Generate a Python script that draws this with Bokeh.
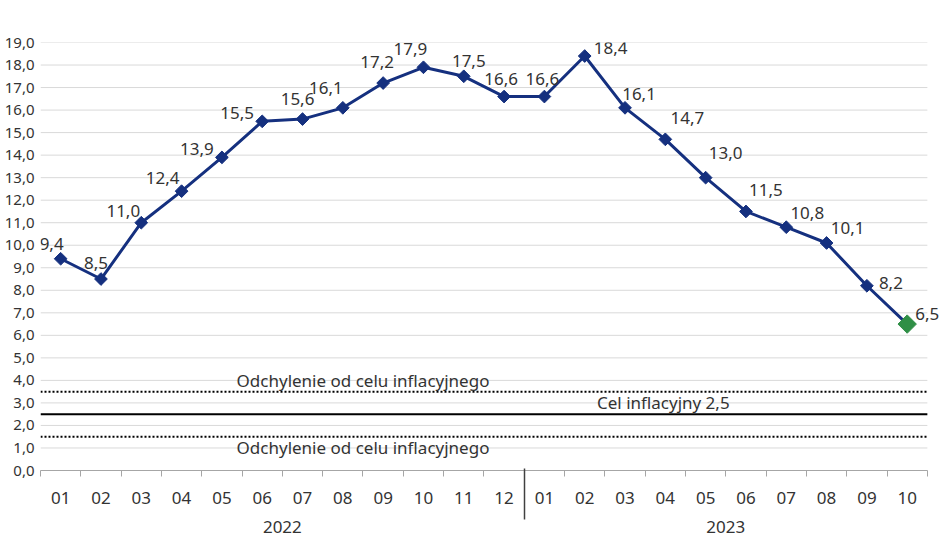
import math
from bokeh.plotting import figure
from bokeh.models import (ColumnDataSource, FixedTicker, LinearAxis, Label,
                          LabelSet, Range1d)
from bokeh.core.properties import value
from bokeh.embed import file_html
from bokeh.resources import INLINE

# ---- data -------------------------------------------------------------
months = ["01", "02", "03", "04", "05", "06", "07", "08", "09", "10", "11", "12",
          "01", "02", "03", "04", "05", "06", "07", "08", "09", "10"]
years = ["2022", "2023"]
months_per_year = [12, 10]
cpi = [9.4, 8.5, 11.0, 12.4, 13.9, 15.5, 15.6, 16.1, 17.2, 17.9, 17.5, 16.6,
       16.6, 18.4, 16.1, 14.7, 13.0, 11.5, 10.8, 10.1, 8.2, 6.5]
y_ticks = list(range(0, 20))
y_tick_labels = [f"{t},0" for t in y_ticks]
target = 2.5
band_upper = 3.5
band_lower = 1.5
target_text = "Cel inflacyjny 2,5"
band_text = "Odchylenie od celu inflacyjnego"

# ---- label placement (screen px, style only) ---------------------------
label_dx = [-9, -5, -18, -19, -25, -25, -5, -17, -6, -13, 5, -3,
            -2, 26, 14, 22, 20, 20, 21, 21, 24, 20]
label_dy = [15, 16, 12, 13, 8, 8, 20, 20, 21, 18, 15, 18,
            18, 8, 14, 21, 25, 21, 14, 15, 3, 10]

NAVY = "#15307f"
GREEN = "#2f8f46"
TXT = "#333333"
FONT = "Noto Sans"

n = len(cpi)
x = list(range(n))
x_lo, x_hi = -0.5, n - 0.5

p = figure(frame_width=905, frame_height=428,
           x_range=Range1d(x_lo, x_hi + 0.45), y_range=Range1d(0, 19),
           output_backend="svg", toolbar_location=None,
           min_border_left=40, min_border_top=42, min_border_right=5,
           min_border_bottom=70)
p.outline_line_color = None
p.background_fill_color = "white"
p.border_fill_color = "white"
p.xgrid.visible = False
p.ygrid.visible = False

# horizontal grid lines (limited to the category area)
p.segment(x0=[x_lo] * len(y_ticks), x1=[x_hi] * len(y_ticks), y0=y_ticks,
          y1=y_ticks, line_color="#d9d9d9", line_width=1)

# y axis
p.yaxis.ticker = FixedTicker(ticks=y_ticks)
p.yaxis.major_label_overrides = {t: l for t, l in zip(y_ticks, y_tick_labels)}
p.yaxis.axis_line_color = None
p.yaxis.major_tick_line_color = None
p.yaxis.minor_tick_line_color = None
p.yaxis.major_tick_out = 0
p.yaxis.major_tick_in = 0
p.yaxis.minor_tick_out = 0
p.yaxis.major_label_standoff = 6
p.yaxis.major_label_text_font = FONT
p.yaxis.major_label_text_font_size = "15px"
p.yaxis.major_label_text_color = TXT

# month axis
xa = p.xaxis[0]
xa.bounds = (x_lo, x_hi)
xa.ticker = FixedTicker(ticks=x, minor_ticks=[i - 0.5 for i in range(n + 1)])
xa.major_label_overrides = {i: m for i, m in enumerate(months)}
xa.major_tick_line_color = None
xa.major_tick_out = 0
xa.major_tick_in = 0
xa.minor_tick_out = 6
xa.minor_tick_in = 0
xa.minor_tick_line_color = "#a6a6a6"
xa.axis_line_color = "#a6a6a6"
xa.major_label_standoff = 15
xa.major_label_text_font = FONT
xa.major_label_text_font_size = "17px"
xa.major_label_text_color = TXT

# year axis
centers, bounds, start = [], [], x_lo
for m in months_per_year:
    centers.append(start + m / 2)
    start += m
    bounds.append(start)
ya = LinearAxis(ticker=FixedTicker(ticks=centers, minor_ticks=bounds[:-1]),
                major_label_overrides={c: y for c, y in zip(centers, years)})
ya.bounds = (x_lo, x_hi)
ya.axis_line_color = None
ya.major_tick_line_color = None
ya.major_tick_out = 0
ya.major_tick_in = 0
ya.minor_tick_in = 38
ya.minor_tick_out = 13
ya.minor_tick_line_color = "#404040"
ya.minor_tick_line_width = 1.5
ya.major_label_standoff = 1
ya.major_label_text_font = FONT
ya.major_label_text_font_size = "17px"
ya.major_label_text_color = TXT
p.add_layout(ya, "below")

# target & tolerance band lines
p.segment(x0=[x_lo, x_lo], x1=[x_hi, x_hi], y0=[band_upper, band_lower],
          y1=[band_upper, band_lower], line_color="black", line_width=2,
          line_dash="2 2")
p.segment(x0=[x_lo], x1=[x_hi], y0=[target], y1=[target], line_color="black",
          line_width=2)

for txt, yv, off, xv in [(band_text, band_upper, 11, 7.5),
                         (band_text, band_lower, -11, 7.5),
                         (target_text, target, 12, 14.95)]:
    p.add_layout(Label(x=xv, y=yv, text=txt, y_offset=off, text_align="center",
                       text_baseline="middle", text_font=FONT,
                       text_font_size="17px", text_color=TXT))

# series
p.line(x, cpi, line_color=NAVY, line_width=3)
p.scatter(x[:-1], cpi[:-1], marker="square", angle=math.pi / 4, size=9,
          color=NAVY)
p.scatter(x[-1:], cpi[-1:], marker="square", angle=math.pi / 4, size=13,
          color=GREEN)

src = ColumnDataSource(dict(x=x, y=cpi,
                            text=[f"{v:.1f}".replace(".", ",") for v in cpi],
                            dx=label_dx, dy=label_dy))
p.add_layout(LabelSet(x="x", y="y", text="text", x_offset="dx", y_offset="dy",
                      source=src, text_align="center", text_baseline="middle",
                      text_font=value(FONT), text_font_size="17px",
                      text_color=TXT))

open("out.html", "w").write(file_html(p, INLINE))
